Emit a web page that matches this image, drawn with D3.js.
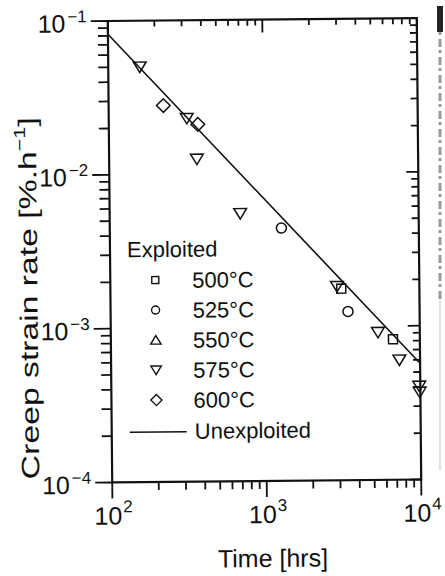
<!DOCTYPE html>
<html>
<head>
<meta charset="utf-8">
<script src="https://cdn.jsdelivr.net/npm/d3@7"></script>
<style>
    body { margin: 0; background: #fff; }
    svg { display: block; font-family: "Liberation Sans", Arial, sans-serif; }
</style>
</head>
<body>
<div id="chart"></div>
<script>
// data
const timeMajor = [100, 1000, 10000];
const rateMajor = [1e-4, 1e-3, 1e-2, 1e-1];
const xTickExp = ['2', '3', '4'];
const yTickExp = ['\u22124', '\u22123', '\u22122', '\u22121'];

const temps = ['500°C', '525°C', '550°C', '575°C', '600°C'];
const shapes = ['square', 'circle', 'triUp', 'triDown', 'diamond'];

const t500 = [3120, 6700];
const r500 = [0.00176, 0.00082];
const t525 = [1290, 3440];
const r525 = [0.0044, 0.00125];
const t550 = [];
const r550 = [];
const t575 = [160, 320, 370, 700, 2930, 5360, 7350, 9850, 9900];
const r575 = [0.050, 0.023, 0.0125, 0.0055, 0.00182, 0.00091, 0.00060, 0.000405, 0.00037];
const t600 = [226, 377];
const r600 = [0.028, 0.021];

// unexploited fit line
const lineTime = [100, 10000];
const lineRate = [0.082, 0.00057];

const width = 445;
const height = 576;
const plotLeft = 110, plotRight = 419, plotTop = 19.5, plotBottom = 481;
const ink = '#111';

const svg = d3.select('#chart')
    .append('svg')
    .attr('width', width)
    .attr('height', height);

// the scan is a little tilted
const chart = svg.append('g')
    .attr('transform', 'rotate(-0.55, 265, 250)');

const xScale = d3.scaleLog().domain([100, 10000]).range([plotLeft, plotRight]);
const yScale = d3.scaleLog().domain([1e-4, 1e-1]).range([plotBottom, plotTop]);

const minorX = [];
[100, 1000].forEach(d => { for (let k = 2; k <= 9; k++) minorX.push(d * k); });
const minorY = [];
[1e-4, 1e-3, 1e-2].forEach(d => { for (let k = 2; k <= 9; k++) minorY.push(d * k); });

// frame
chart.append('rect')
    .attr('x', plotLeft)
    .attr('y', plotTop)
    .attr('width', plotRight - plotLeft)
    .attr('height', plotBottom - plotTop)
    .attr('fill', 'none')
    .attr('stroke', ink)
    .attr('stroke-width', 2.2);

// ticks: out at bottom / left, in at top / right
const tickLine = (x1, y1, x2, y2) => {
    chart.append('line')
        .attr('x1', x1).attr('y1', y1)
        .attr('x2', x2).attr('y2', y2)
        .attr('stroke', ink)
        .attr('stroke-width', 1.8);
};
timeMajor.forEach(v => {
    tickLine(xScale(v), plotBottom, xScale(v), plotBottom + 16);
    tickLine(xScale(v), plotTop, xScale(v), plotTop + 13);
});
minorX.forEach(v => {
    tickLine(xScale(v), plotBottom, xScale(v), plotBottom + 8);
    tickLine(xScale(v), plotTop, xScale(v), plotTop + 6);
});
rateMajor.forEach(v => {
    tickLine(plotLeft, yScale(v), plotLeft - 17, yScale(v));
    tickLine(plotRight, yScale(v), plotRight - 12, yScale(v));
});
minorY.forEach(v => {
    tickLine(plotLeft, yScale(v), plotLeft - 10, yScale(v));
    tickLine(plotRight, yScale(v), plotRight - 7, yScale(v));
});

// tick labels with superscripts
const xLab = chart.selectAll('.xLabel')
    .data(timeMajor)
    .enter().append('text')
    .attr('class', 'xLabel')
    .attr('x', d => xScale(d) + 1)
    .attr('y', plotBottom + 42)
    .attr('text-anchor', 'middle')
    .style('font-size', '25px')
    .attr('fill', ink);
xLab.append('tspan').text('10');
xLab.append('tspan').attr('dy', -12).attr('dx', 1).style('font-size', '17px').text((d, i) => xTickExp[i]);

const yLab = chart.selectAll('.yLabel')
    .data(rateMajor)
    .enter().append('text')
    .attr('class', 'yLabel')
    .attr('x', plotLeft - 21)
    .attr('y', d => yScale(d) + 11)
    .attr('text-anchor', 'end')
    .style('font-size', '25px')
    .attr('fill', ink);
yLab.append('tspan').text('10');
yLab.append('tspan').attr('dy', -10).attr('dx', 2).style('font-size', '17px').text((d, i) => yTickExp[i]);

// axis titles
chart.append('text')
    .attr('x', 270)
    .attr('y', 567)
    .attr('text-anchor', 'middle')
    .style('font-size', '25px')
    .attr('fill', ink)
    .text('Time [hrs]');

const yTitle = chart.append('text')
    .attr('transform', 'translate(37,296) rotate(-90)')
    .attr('text-anchor', 'middle')
    .attr('textLength', 362)
    .attr('lengthAdjust', 'spacingAndGlyphs')
    .style('font-size', '25px')
    .attr('fill', ink);
yTitle.append('tspan').text('Creep strain rate [%.h');
yTitle.append('tspan').attr('dy', -11).style('font-size', '16px').text('\u22121');
yTitle.append('tspan').attr('dy', 11).text(']');

// markers
const markerPath = (shape, s) => {
    if (shape === 'square') return `M${-s / 2},${-s / 2}h${s}v${s}h${-s}Z`;
    if (shape === 'circle') return `M${s / 2},0A${s / 2},${s / 2} 0 1,1 ${-s / 2},0A${s / 2},${s / 2} 0 1,1 ${s / 2},0Z`;
    if (shape === 'triUp') return `M0,${-s * 0.5}L${s * 0.58},${s * 0.45}L${-s * 0.58},${s * 0.45}Z`;
    if (shape === 'triDown') return `M0,${s * 0.5}L${s * 0.58},${-s * 0.45}L${-s * 0.58},${-s * 0.45}Z`;
    return `M0,${-s * 0.62}L${s * 0.62},0L0,${s * 0.62}L${-s * 0.62},0Z`;
};

const seriesTime = [t500, t525, t550, t575, t600];
const seriesRate = [r500, r525, r550, r575, r600];
const plotSize = [9, 10, 11, 11, 11];

temps.forEach((name, i) => {
    const pts = seriesTime[i].map((t, j) => ({ x: t, y: seriesRate[i][j] }));
    chart.append('g').selectAll('path')
        .data(pts)
        .enter().append('path')
        .attr('transform', d => `translate(${xScale(d.x)},${yScale(d.y)})`)
        .attr('d', markerPath(shapes[i], plotSize[i]))
        .attr('fill', 'none')
        .attr('stroke', ink)
        .attr('stroke-width', 1.5);
});

// fit line
const line = d3.line()
    .x(d => xScale(d.x))
    .y(d => yScale(d.y));

chart.append('path')
    .datum(lineTime.map((t, i) => ({ x: t, y: lineRate[i] })))
    .attr('d', line)
    .attr('fill', 'none')
    .attr('stroke', ink)
    .attr('stroke-width', 1.6);

// legend
chart.append('text')
    .attr('x', 127)
    .attr('y', 256)
    .style('font-size', '22px')
    .attr('fill', ink)
    .text('Exploited');

const legendSize = [7, 8, 9, 9, 9];
temps.forEach((name, i) => {
    const cy = 279 + i * 30;
    chart.append('path')
        .attr('transform', `translate(155,${cy})`)
        .attr('d', markerPath(shapes[i], legendSize[i]))
        .attr('fill', 'none')
        .attr('stroke', ink)
        .attr('stroke-width', 1.4);
    chart.append('text')
        .attr('x', 192)
        .attr('y', cy + 8)
        .style('font-size', '22px')
        .attr('fill', ink)
        .text(name);
});

chart.append('line')
    .attr('x1', 128).attr('x2', 185)
    .attr('y1', 431).attr('y2', 431)
    .attr('stroke', ink)
    .attr('stroke-width', 1.4);
chart.append('text')
    .attr('x', 193)
    .attr('y', 438)
    .style('font-size', '22px')
    .attr('fill', ink)
    .text('Unexploited');

// edge of the neighbouring page in the scan
svg.append('rect')
    .attr('x', 437).attr('y', 6).attr('width', 6).attr('height', 26)
    .attr('fill', '#222');
svg.append('line')
    .attr('x1', 440).attr('x2', 440)
    .attr('y1', 32).attr('y2', 300)
    .attr('stroke', '#999')
    .attr('stroke-width', 3)
    .attr('stroke-dasharray', '3,4,8,3');
svg.append('line')
    .attr('x1', 440).attr('x2', 440)
    .attr('y1', 300).attr('y2', 470)
    .attr('stroke', '#e2e2e2')
    .attr('stroke-width', 2);
</script>
</body>
</html>
